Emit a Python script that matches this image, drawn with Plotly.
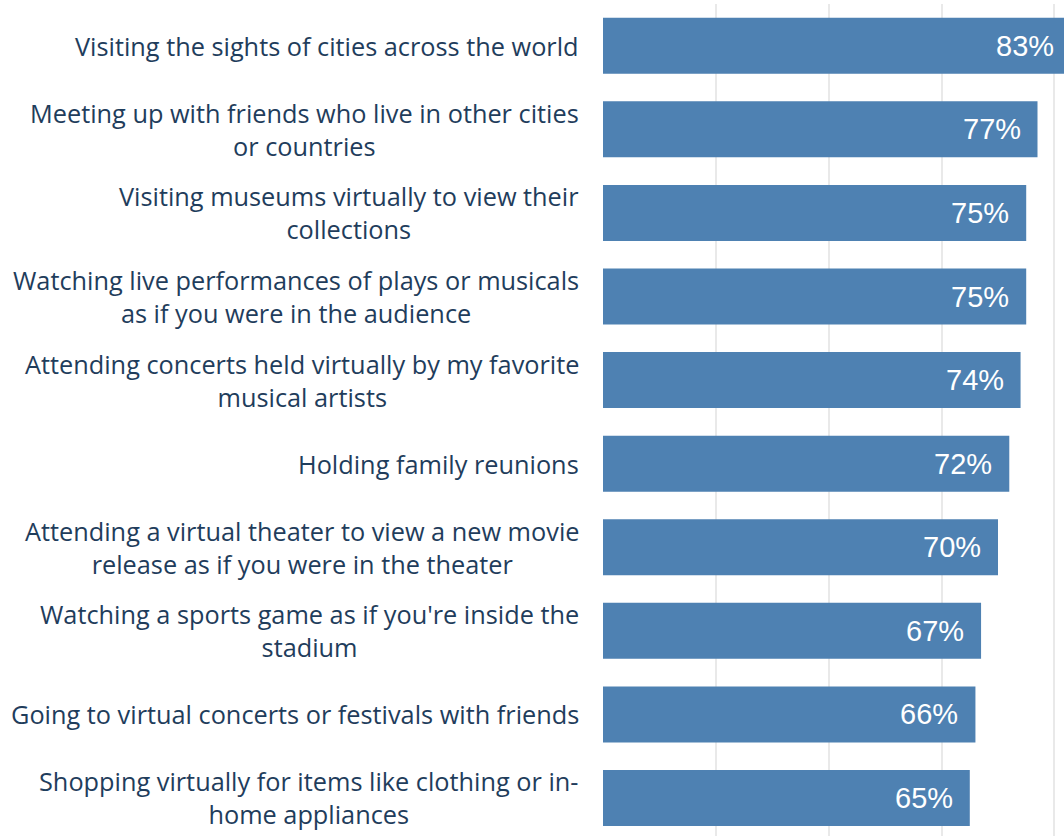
import plotly.graph_objects as go

# Share of respondents interested in each virtual experience
activities = [
    "Visiting the sights of cities across the world",
    "Meeting up with friends who live in other cities<br>or countries",
    "Visiting museums virtually to view their<br>collections",
    "Watching live performances of plays or musicals<br>as if you were in the audience",
    "Attending concerts held virtually by my favorite<br>musical artists",
    "Holding family reunions",
    "Attending a virtual theater to view a new movie<br>release as if you were in the theater",
    "Watching a sports game as if you're inside the<br>stadium",
    "Going to virtual concerts or festivals with friends",
    "Shopping virtually for items like clothing or in-<br>home appliances",
]
shares = [83, 77, 75, 75, 74, 72, 70, 67, 66, 65]

BAR_COLOR = "#4e81b2"
LABEL_COLOR = "#1f3d5c"
positions = list(range(len(activities)))

fig = go.Figure()

fig.add_trace(go.Bar(
    x=shares,
    y=positions,
    orientation="h",
    width=0.67,
    marker=dict(color=BAR_COLOR, line=dict(width=0)),
    hoverinfo="skip",
))

# value labels just inside the end of each bar
for pos, v in zip(positions, shares):
    fig.add_annotation(
        x=v, xref="x", y=pos, yref="y",
        text=f"{v}%", showarrow=False,
        xanchor="right", yanchor="middle",
        xshift=-15,
        font=dict(family="Liberation Sans, Arial, sans-serif", size=29, color="white"),
    )

# category labels: right-aligned block, centred lines
for pos, name in zip(positions, activities):
    fig.add_annotation(
        x=0, xref="paper", y=pos, yref="y",
        text=name, showarrow=False,
        xanchor="right", yanchor="middle", align="center",
        xshift=-22,
        font=dict(family="Open Sans, sans-serif", size=25.3, color=LABEL_COLOR),
    )

# the figure runs a little past the right edge of the page, which is cropped
fig.update_layout(
    width=1077, height=836,
    margin=dict(l=603, r=0, t=4, b=0),
    paper_bgcolor="white", plot_bgcolor="white",
    showlegend=False,
)
fig.update_xaxes(
    range=[0, 84], dtick=20, showticklabels=False,
    showgrid=True, gridcolor="#e9e9e9", gridwidth=2,
    zeroline=False, showline=False,
)
fig.update_yaxes(
    range=[9.455, -0.5], showticklabels=False,
    showgrid=False, zeroline=False, showline=False,
)

fig.write_html(
    "out.html",
    post_script="document.documentElement.style.overflow='hidden';"
                "document.body.style.overflow='hidden';",
)
